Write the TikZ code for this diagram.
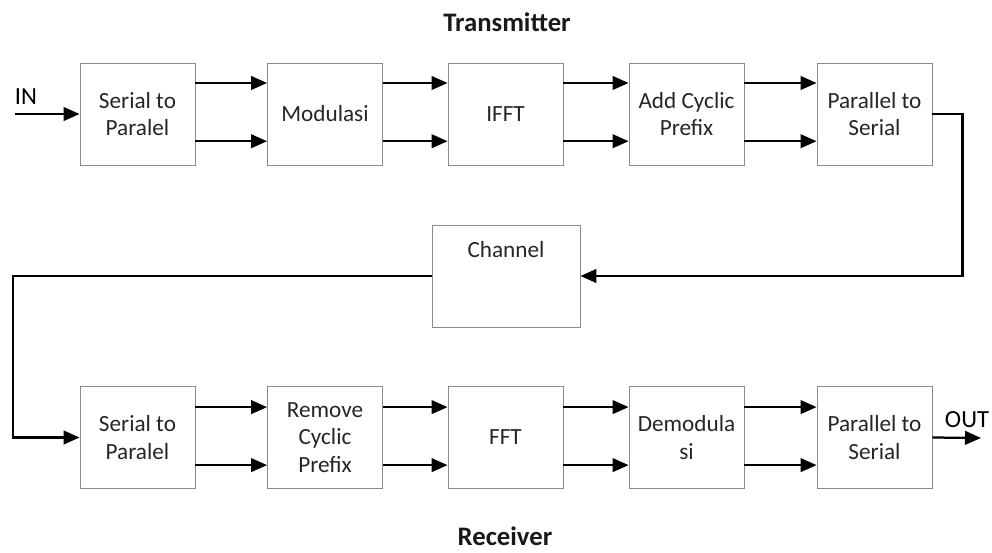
\documentclass[tikz,border=0pt]{standalone}
\usepackage{fontspec}
\setmainfont{Carlito}
\usepackage{tikz}
\usetikzlibrary{calc, arrows.meta, positioning}
\usepackage{xcolor}

\begin{document}
\begin{tikzpicture}[
    x=0.025cm, y=-0.025cm,
    blok/.style={draw=black!45, line width=0.6pt, fill=white,
                 minimum width=2.875cm, minimum height=2.55cm,
                 align=center, text=black!85,
                 font=\fontsize{16.5pt}{19.5pt}\selectfont},
    judul/.style={font=\fontsize{19pt}{22pt}\selectfont\bfseries, text=black!90},
    teks/.style={font=\fontsize{17.5pt}{20pt}\selectfont, text=black},
    arr/.style={-{Triangle[length=0.4cm, width=0.34cm]}, line width=1.6pt}
  ]
    \useasboundingbox (0,0) rectangle (992,552);

    % transmitter
    \node[judul] (tx) at (507,22) {Transmitter};
    \node[blok] (sp1)  at (137.5,114) {Serial to\\Paralel};
    \node[blok] (mod)  at (325,114)   {Modulasi};
    \node[blok] (ifft) at (505.5,114) {IFFT};
    \node[blok] (acp)  at (686.5,114) {Add Cyclic\\Prefix};
    \node[blok] (ps1)  at (874.5,114) {Parallel to\\Serial};

    % channel
    \node[blok, minimum width=3.7cm,
          label={[anchor=center, yshift=-0.63cm, text=black!85,
                  font=\fontsize{16.5pt}{19.5pt}\selectfont]north:Channel}]
          (chan) at (506,276) {};

    % receiver
    \node[blok] (sp2)  at (137.5,437.5) {Serial to\\Paralel};
    \node[blok] (rcp)  at (325,437.5)   {Remove\\Cyclic\\Prefix};
    \node[blok] (fft)  at (505.5,437.5) {FFT};
    \node[blok] (dem)  at (686.5,437.5) {Demodula\\si};
    \node[blok] (ps2)  at (874.5,437.5) {Parallel to\\Serial};
    \node[judul] (rx) at (505,536) {Receiver};

    % input / output
    \coordinate (in)  at (15,114);
    \coordinate (out) at (981,438);
    \coordinate (lft) at (13,276);
    \node[teks] (inlbl)  at (26,97)  {IN};
    \node[teks] (outlbl) at (967,420) {OUT};

    \draw[arr] (in) -- (sp1.west);
    \draw[arr] ([yshift=0.775cm]sp1.east)  -- ([yshift=0.775cm]mod.west);
    \draw[arr] ([yshift=-0.68cm]sp1.east)  -- ([yshift=-0.68cm]mod.west);
    \draw[arr] ([yshift=0.775cm]mod.east)  -- ([yshift=0.775cm]ifft.west);
    \draw[arr] ([yshift=-0.68cm]mod.east)  -- ([yshift=-0.68cm]ifft.west);
    \draw[arr] ([yshift=0.775cm]ifft.east) -- ([yshift=0.775cm]acp.west);
    \draw[arr] ([yshift=-0.68cm]ifft.east) -- ([yshift=-0.68cm]acp.west);
    \draw[arr] ([yshift=0.775cm]acp.east)  -- ([yshift=0.775cm]ps1.west);
    \draw[arr] ([yshift=-0.68cm]acp.east)  -- ([yshift=-0.68cm]ps1.west);

    \draw[arr] (ps1.east) -- ++(0.75cm,0) |- (chan.east);
    \draw[arr] (chan.west) -- (lft) |- (sp2.west);

    \draw[arr] ([yshift=0.76cm]sp2.east)  -- ([yshift=0.76cm]rcp.west);
    \draw[arr] ([yshift=-0.69cm]sp2.east) -- ([yshift=-0.69cm]rcp.west);
    \draw[arr] ([yshift=0.76cm]rcp.east)  -- ([yshift=0.76cm]fft.west);
    \draw[arr] ([yshift=-0.69cm]rcp.east) -- ([yshift=-0.69cm]fft.west);
    \draw[arr] ([yshift=0.76cm]fft.east)  -- ([yshift=0.76cm]dem.west);
    \draw[arr] ([yshift=-0.69cm]fft.east) -- ([yshift=-0.69cm]dem.west);
    \draw[arr] ([yshift=0.76cm]dem.east)  -- ([yshift=0.76cm]ps2.west);
    \draw[arr] ([yshift=-0.69cm]dem.east) -- ([yshift=-0.69cm]ps2.west);
    \draw[arr] (ps2.east) -- (out);
  \end{tikzpicture}
\end{document}
